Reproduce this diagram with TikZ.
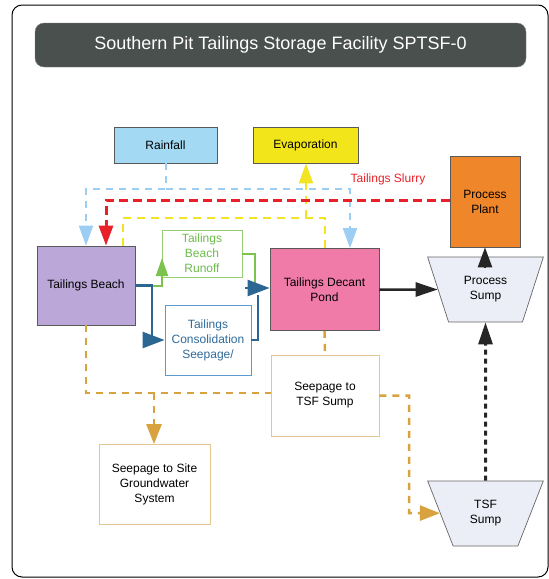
\documentclass[tikz,border=0pt]{standalone}
\usepackage{fontspec}
\setmainfont{Liberation Sans}
\usetikzlibrary{arrows.meta,shapes.geometric}
\definecolor{titlegray}{HTML}{4A504E}
\definecolor{rainc}{HTML}{A3D9F2}
\definecolor{evapc}{HTML}{F2E51A}
\definecolor{plantc}{HTML}{F0862A}
\definecolor{beachc}{HTML}{BBA8D8}
\definecolor{pondc}{HTML}{F07AA8}
\definecolor{sumpc}{HTML}{ECEEF7}
\definecolor{greenc}{HTML}{7CC24E}
\definecolor{greentxt}{HTML}{6DBB4A}
\definecolor{bluec}{HTML}{2B6792}
\definecolor{bluebox}{HTML}{5A9AD0}
\definecolor{bluetxt}{HTML}{2F6A9A}
\definecolor{tanc}{HTML}{E2C88E}
\definecolor{orangec}{HTML}{D8A23E}
\definecolor{lbline}{HTML}{9CCDF2}
\definecolor{redline}{HTML}{E82128}
\definecolor{yelline}{HTML}{F2E422}
\begin{document}
\begin{tikzpicture}[x=1pt,y=-1pt,
  txt/.style={align=center,font=\fontsize{12}{15}\selectfont,inner sep=0pt},
  box/.style={txt,draw=black!65,line width=0.7pt},
  sump/.style={txt,draw=black!60,line width=0.7pt,fill=sumpc,trapezium,shape border rotate=180,
    trapezium stretches=true,trapezium left angle=64.5,trapezium right angle=64.5,
    minimum width=116pt,minimum height=65pt},
  tip/.style={-{Triangle[length=20pt,width=14pt]}},
  rainln/.style={draw=lbline,line width=2pt,dash pattern=on 7pt off 6pt},
  redln/.style={draw=redline,line width=3pt,dash pattern=on 9pt off 5pt},
  yelln/.style={draw=yelline,line width=2pt,dash pattern=on 8pt off 6pt},
  orln/.style={draw=orangec,line width=2.5pt,dash pattern=on 7pt off 6pt},
  blueln/.style={draw=bluec,line width=2.5pt},
  greenln/.style={draw=greenc,line width=2pt},
  blackln/.style={draw=black!85,line width=2.5pt},
  blackdash/.style={draw=black!85,line width=3pt,dash pattern=on 5pt off 4pt}]
\useasboundingbox (0,0) rectangle (549,579);
% frame and title
\draw[line width=1pt,rounded corners=10pt] (12,5) rectangle (548,577);
\node[fill=titlegray,draw=black!50,rounded corners=9pt,minimum width=491pt,minimum height=44pt,
  text=white,font=\fontsize{18}{21}\selectfont,inner sep=0pt] (title) at (280.5,45) {Southern Pit Tailings Storage Facility SPTSF-0};
% nodes
\node[box,fill=rainc,minimum width=103pt,minimum height=36pt] (rain) at (165.5,145) {Rainfall};
\node[box,fill=evapc,minimum width=105pt,minimum height=36pt] (evap) at (305.5,145) {Evaporation};
\node[box,fill=plantc,minimum width=70pt,minimum height=91pt] (plant) at (485,201.5) {Process\\Plant};
\node[box,fill=beachc,minimum width=98pt,minimum height=79pt] (beach) at (86,285.5) {Tailings Beach};
\node[txt,draw=greenc!80,line width=0.7pt,text=greentxt,minimum width=80pt,minimum height=47pt] (runoff) at (202,253.5) {Tailings\\Beach\\Runoff};
\node[box,fill=pondc,minimum width=109pt,minimum height=82pt] (pond) at (324.5,289.5) {Tailings Decant\\Pond};
\node[sump] (psump) at (485.5,289.5) {Process\\Sump};
\node[txt,draw=bluebox,line width=0.8pt,text=bluetxt,minimum width=86pt,minimum height=70pt] (cons) at (208,340) {Tailings\\Consolidation\\Seepage/};
\node[txt,draw=tanc,line width=0.8pt,minimum width=108pt,minimum height=81pt] (seeptsf) at (325,395.5) {Seepage to\\TSF Sump};
\node[txt,draw=tanc,line width=0.8pt,minimum width=111pt,minimum height=80pt] (ground) at (154.5,484.5) {Seepage to Site\\Groundwater\\System};
\node[sump] (tsf) at (485.5,513.5) {TSF\\Sump};
\node[txt,text=redline] (slurrylab) at (388,179.5) {Tailings Slurry};
% coordinates
\coordinate (rr) at (350,189);
\coordinate (rl) at (106,200);
\coordinate (yl) at (123,218);
\coordinate (yr) at (325,218);
\coordinate (ye) at (306,218);
\coordinate (b1) at (152,285.5);
\coordinate (gt) at (162,258);
\coordinate (g2) at (255,288);
\coordinate (b2) at (258,295);
\coordinate (b3) at (245,288);
\coordinate (ps1) at (485,268);
\coordinate (o1) at (86,393);
\coordinate (o2) at (154,393);
\coordinate (o4) at (409,513);
% rainfall
\draw[rainln,tip] (rain.south) -- (rain.south |- rr) -| (beach.north);
\draw[rainln,tip] (rain.south |- rr) -- (rr) -- (rr |- pond.north);
% evaporation
\draw[yelln] (yl |- beach.north) -- (yl) -- (yr) -- (yr |- pond.north);
\draw[yelln,tip] (ye) -- (ye |- evap.south);
% slurry
\draw[redln,tip] (plant.west |- 0,200) -- (rl) -- (rl |- beach.north);
% green runoff
\draw[greenln,-{Triangle[length=18pt,width=12pt]}] (beach.east) -- (gt |- beach.east) -- (gt);
\draw[greenln] (runoff.east) -| (g2);
% blue seepage
\draw[blueln,-{Triangle[length=22pt,width=16pt]}] (beach.east) -- (b1) |- (cons.west);
\draw[blueln] (cons.east) -| (b2);
\draw[blueln,-{Triangle[length=22pt,width=16pt]}] (b3) -- (b3 -| pond.west);
% black
\draw[blackln,-{Triangle[length=22pt,width=14pt]}] (pond) -- (psump);
\draw[blackln,-{Triangle[length=20pt,width=14pt]}] (ps1) -- (plant.south);
\draw[blackdash,-{Triangle[length=22pt,width=14pt]}] (tsf) -- (psump);
% orange
\draw[orln] (beach.south) -- (o1) -- (o1 -| seeptsf.west);
\draw[orln,-{Triangle[length=20pt,width=15pt]}] (o2) -- (o2 |- ground.north);
\draw[orln] (pond) -- (seeptsf);
\draw[orln,-{Triangle[length=20pt,width=15pt]}] (seeptsf.east) -| (o4) -- (tsf);
\end{tikzpicture}
\end{document}
